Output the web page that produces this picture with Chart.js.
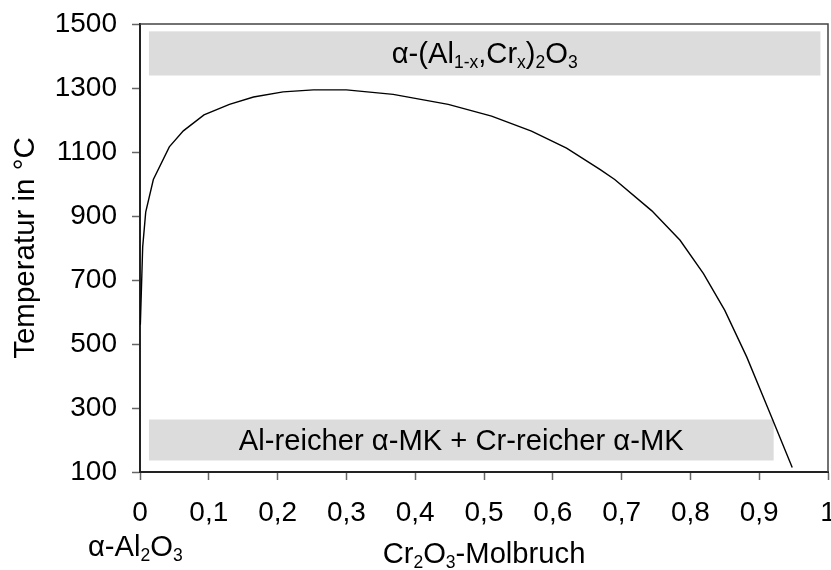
<!DOCTYPE html>
<html>
<head>
<meta charset="utf-8">
<script src="https://cdn.jsdelivr.net/npm/chart.js@4/dist/chart.umd.min.js"></script>
<style>
  html, body { margin: 0; padding: 0; background: #fff; }
  #wrap { width: 831px; height: 570px; position: relative; }
</style>
</head>
<body>
<div id="wrap"><canvas id="c"></canvas></div>
<script>
// ---- data ----
const molFraction = [0.0005, 0.0039, 0.0083, 0.0194, 0.0426, 0.063, 0.093, 0.130, 0.165, 0.208, 0.252, 0.300, 0.368, 0.448, 0.511, 0.569, 0.620, 0.669, 0.690, 0.744, 0.785, 0.819, 0.850, 0.882, 0.916, 0.948];
const temperature = [560, 803, 912, 1014, 1116, 1166, 1216, 1249, 1272, 1288, 1294, 1294, 1280, 1249, 1212, 1165, 1112, 1045, 1014, 916, 824, 720, 605, 459, 282, 114];

const xTickValues = [0, 0.1, 0.2, 0.3, 0.4, 0.5, 0.6, 0.7, 0.8, 0.9, 1];
const xTickLabels = ['0', '0,1', '0,2', '0,3', '0,4', '0,5', '0,6', '0,7', '0,8', '0,9', '1'];
const yTickValues = [100, 300, 500, 700, 900, 1100, 1300, 1500];

// region boxes (x from/to in mole fraction, T from/to in °C)
const boxXFrom = [0.013, 0.013];
const boxXTo   = [0.989, 0.921];
const boxTLow  = [1339, 136];
const boxTHigh = [1477, 264];
// labels as [text, isSubscript] segments
const boxLabels = [
  [['α-(Al', 0], ['1-x', 1], [',Cr', 0], ['x', 1], [')', 0], ['2', 1], ['O', 0], ['3', 1]],
  [['Al-reicher α-MK + Cr-reicher α-MK', 0]]
];
const yTitle = 'Temperatur in °C';
const xLeftLabel = [['α-Al', 0], ['2', 1], ['O', 0], ['3', 1]];
const xTitle = [['Cr', 0], ['2', 1], ['O', 0], ['3', 1], ['-Molbruch', 0]];

// ---- drawing ----
const FONT = "'Liberation Sans', Arial, Helvetica, sans-serif";
const MAIN = 29.2, SUB = 17.5, SUB_OFF = 4.5;

function richWidth(ctx, segs) {
  let w = 0;
  for (const [t, s] of segs) {
    ctx.font = (s ? SUB : MAIN) + 'px ' + FONT;
    w += ctx.measureText(t).width;
  }
  return w;
}
function drawRich(ctx, segs, x, baseline, align) {
  const w = richWidth(ctx, segs);
  let cx = align === 'center' ? x - w / 2 : (align === 'right' ? x - w : x);
  ctx.textAlign = 'left';
  ctx.textBaseline = 'alphabetic';
  ctx.fillStyle = '#000';
  for (const [t, s] of segs) {
    ctx.font = (s ? SUB : MAIN) + 'px ' + FONT;
    ctx.fillText(t, cx, baseline + (s ? SUB_OFF : 0));
    cx += ctx.measureText(t).width;
  }
}

const decorPlugin = {
  id: 'decor',
  beforeDatasetsDraw(chart) {
    const ctx = chart.ctx, xs = chart.scales.x, ys = chart.scales.y;
    ctx.save();
    ctx.fillStyle = '#dcdcdc';
    for (let i = 0; i < boxXFrom.length; i++) {
      const x0 = xs.getPixelForValue(boxXFrom[i]);
      const x1 = xs.getPixelForValue(boxXTo[i]);
      const y0 = ys.getPixelForValue(boxTHigh[i]);
      const y1 = ys.getPixelForValue(boxTLow[i]);
      ctx.fillRect(x0, y0, x1 - x0, y1 - y0);
    }
    ctx.restore();
  },
  afterDraw(chart) {
    const ctx = chart.ctx, xs = chart.scales.x, ys = chart.scales.y, ca = chart.chartArea;
    ctx.save();
    // box labels
    for (let i = 0; i < boxXFrom.length; i++) {
      const cx = (xs.getPixelForValue(boxXFrom[i]) + xs.getPixelForValue(boxXTo[i])) / 2;
      const cy = (ys.getPixelForValue(boxTHigh[i]) + ys.getPixelForValue(boxTLow[i])) / 2;
      drawRich(ctx, boxLabels[i], cx, cy + 10, 'center');
    }
    // frame top & right
    ctx.strokeStyle = '#444';
    ctx.lineWidth = 1.5;
    ctx.beginPath();
    ctx.moveTo(ca.left, ca.top);
    ctx.lineTo(ca.right, ca.top);
    ctx.lineTo(ca.right, ca.bottom);
    ctx.stroke();
    // bottom labels
    drawRich(ctx, xLeftLabel, 88, 556, 'left');
    drawRich(ctx, xTitle, (ca.left + ca.right) / 2, 563, 'center');
    ctx.restore();
  }
};

new Chart(document.getElementById('c'), {
  type: 'scatter',
  data: {
    datasets: [{
      data: molFraction.map((v, i) => ({ x: v, y: temperature[i] })),
      showLine: true,
      borderColor: '#000',
      borderWidth: 1.4,
      pointRadius: 0,
      tension: 0,
      fill: false
    }]
  },
  options: {
    responsive: true,
    maintainAspectRatio: false,
    animation: false,
    events: [],
    layout: { padding: { top: 24, right: 3, left: 0, bottom: 0 } },
    plugins: { legend: { display: false }, tooltip: { enabled: false } },
    scales: {
      x: {
        type: 'linear',
        min: 0, max: 1,
        afterBuildTicks(scale) { scale.ticks = xTickValues.map(v => ({ value: v })); },
        afterFit(scale) { scale.height = 98; scale.paddingLeft = 0; scale.paddingRight = 0; },
        ticks: {
          autoSkip: false, maxRotation: 0,
          color: '#000',
          padding: 16,
          font: { family: FONT, size: 28 },
          callback: (v) => { const i = xTickValues.findIndex(t => Math.abs(t - v) < 1e-9); return i >= 0 ? xTickLabels[i] : ''; }
        },
        grid: { drawOnChartArea: false, drawTicks: true, tickLength: 8, tickColor: '#666', tickWidth: 1.5 },
        border: { display: true, color: '#222', width: 2 }
      },
      y: {
        type: 'linear',
        min: 100, max: 1500,
        afterBuildTicks(scale) { scale.ticks = yTickValues.map(v => ({ value: v })); },
        afterFit(scale) { scale.width = 140; scale.paddingTop = 0; scale.paddingBottom = 0; },
        ticks: {
          color: '#000',
          padding: 15,
          font: { family: FONT, size: 28 },
          callback: (v) => String(v)
        },
        title: {
          display: true,
          text: yTitle,
          color: '#000',
          font: { family: FONT, size: 29.5 },
          padding: { top: 8, bottom: 0 }
        },
        grid: { drawOnChartArea: false, drawTicks: true, tickLength: 8, tickColor: '#666', tickWidth: 1.5 },
        border: { display: true, color: '#222', width: 2 }
      }
    }
  },
  plugins: [decorPlugin]
});
</script>
</body>
</html>
